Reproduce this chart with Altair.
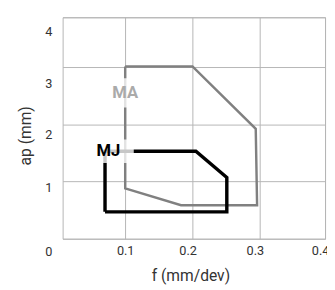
import altair as alt
import pandas as pd

# Polygons (f in mm/dev, ap in mm)
ma_f = [0.1, 0.2, 0.294, 0.296, 0.183, 0.1, 0.1]
ma_ap = [3.01, 3.01, 1.92, 0.585, 0.585, 0.88, 3.01]
mj_f = [0.07, 0.07, 0.205, 0.251, 0.251, 0.07]
mj_ap = [0.47, 1.53, 1.53, 1.07, 0.47, 0.47]

label_text = ["MA", "MJ"]
label_f = [0.1, 0.075]
label_ap = [2.57, 1.55]
label_color = ["#aaaaaa", "#000000"]
box_f = [0.1, 0.083]
box_ap = [2.55, 1.53]

x_ticks = [0.1, 0.2, 0.3, 0.397]
y_ticks = [0, 1, 2, 3, 3.87]

ma = pd.DataFrame({"f": ma_f, "ap": ma_ap, "i": range(len(ma_f))})
mj = pd.DataFrame({"f": mj_f, "ap": mj_ap, "i": range(len(mj_f))})
labels = pd.DataFrame({"f": label_f, "ap": label_ap, "t": label_text, "c": label_color})
boxes = pd.DataFrame({"f": box_f, "ap": box_ap, "t": label_text})

xs = alt.Scale(domain=[0.007, 0.397], nice=False, zero=False)
ys = alt.Scale(domain=[0, 3.87], nice=False, zero=False)

x_axis = alt.Axis(
    values=x_ticks, title="f (mm/dev)", grid=True, ticks=False, domain=False,
    labelExpr="datum.value > 0.35 ? '0.4' : format(datum.value, '.1f')",
    labelFlush=False, labelOverlap=False, labelPadding=6,
    labelOffset={"condition": {"test": "datum.value < 0.15", "value": 0}, "value": -5},
    titleY=43, titleBaseline="alphabetic", titleX=131,
)
y_axis = alt.Axis(
    values=y_ticks, title="ap (mm)", grid=True, ticks=False, domain=False,
    labelExpr="datum.value > 3.5 ? '4' : format(datum.value, 'd')",
    labelFlush=False, labelOverlap=False, labelPadding=11,
    labelOffset={"condition": [
        {"test": "datum.value == 0", "value": 13},
        {"test": "datum.value == 1", "value": 6},
        {"test": "datum.value == 2", "value": 11},
        {"test": "datum.value == 3", "value": 17},
    ], "value": 15},
    titleX=-33, titleY=121, titleBaseline="alphabetic",
)

base_ma = alt.Chart(ma).mark_line(color="#808080", strokeWidth=2.5, strokeJoin="miter").encode(
    x=alt.X("f:Q", scale=xs, axis=x_axis),
    y=alt.Y("ap:Q", scale=ys, axis=y_axis),
    order="i:Q",
)
line_mj = alt.Chart(mj).mark_line(color="#000000", strokeWidth=3.5, strokeJoin="miter").encode(
    x=alt.X("f:Q", scale=xs),
    y=alt.Y("ap:Q", scale=ys),
    order="i:Q",
)
box_ma = alt.Chart(boxes).transform_filter("datum.t == 'MA'").mark_point(
    shape="M-1,-0.75H1V0.75H-1Z", filled=True, color="white", opacity=0.78, size=1600, strokeWidth=0
).encode(x=alt.X("f:Q", scale=xs), y=alt.Y("ap:Q", scale=ys))
box_mj = alt.Chart(boxes).transform_filter("datum.t == 'MJ'").mark_point(
    shape="M-1,-0.585H1V0.585H-1Z", filled=True, color="white", opacity=0.78, size=1681, strokeWidth=0
).encode(x=alt.X("f:Q", scale=xs), y=alt.Y("ap:Q", scale=ys))
text = alt.Chart(labels).mark_text(
    font="Roboto", fontWeight="bold", fontSize=17, baseline="middle", align="center", dy=1
).encode(
    x=alt.X("f:Q", scale=xs), y=alt.Y("ap:Q", scale=ys), text="t:N",
    color=alt.Color("c:N", scale=None),
)

chart = alt.layer(base_ma, box_ma, line_mj, box_mj, text).properties(
    width=269, height=227,
    autosize=alt.AutoSizeParams(type="none"),
    padding={"left": 56, "top": 6, "right": 2, "bottom": 48},
).configure_view(stroke="#b5b5b5", strokeWidth=1).configure_axis(
    gridColor="#b5b5b5", gridWidth=1, gridOpacity=1,
    labelFont="Roboto", labelFontSize=13, labelColor="#333333",
    titleFont="Roboto", titleFontSize=16, titleFontWeight="normal", titleColor="#333333",
)

chart.save("out.html", embed_options={"renderer": "svg", "actions": False})
